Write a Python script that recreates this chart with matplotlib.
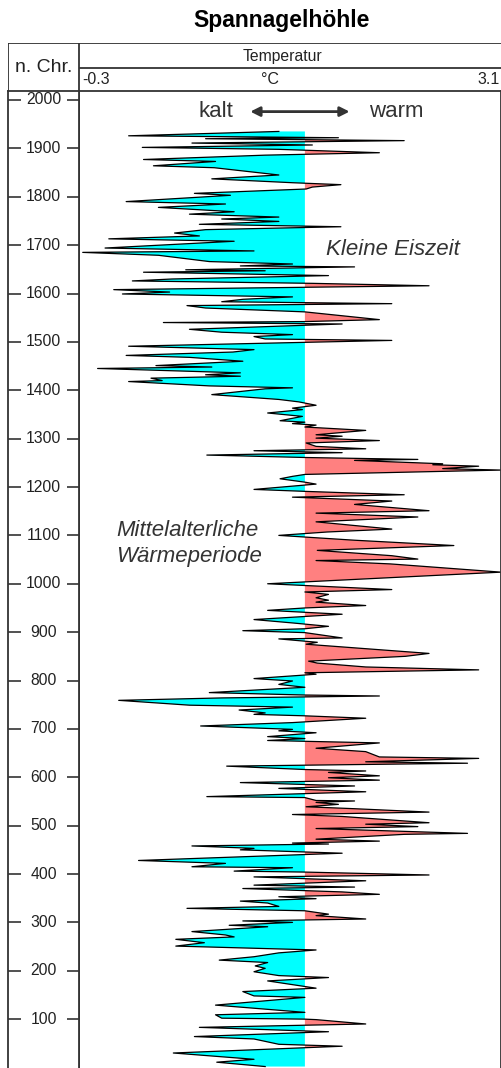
import matplotlib.pyplot as plt
import numpy as np
from matplotlib.transforms import blended_transform_factory

plt.rcParams['font.family'] = ['Liberation Sans', 'DejaVu Sans']

# Spannagelhöhle temperature reconstruction (years n. Chr., deg C)
year = np.array([
    1935, 1926, 1922, 1920, 1916, 1911, 1907, 1902, 1898, 1891, 1886, 1877, 1873, 1864, 1860,
    1845, 1837, 1829, 1825, 1820, 1816, 1807, 1803, 1790, 1785, 1778, 1769, 1764, 1758, 1754,
    1749, 1743, 1738, 1732, 1725, 1719, 1713, 1708, 1694, 1688, 1685, 1679,
    1666, 1661, 1657, 1655, 1649, 1647, 1644, 1637, 1630, 1626, 1621, 1616, 1611, 1608, 1603,
    1599, 1593, 1588, 1583, 1579, 1575, 1570, 1562, 1554, 1546, 1542, 1540, 1537, 1526, 1520,
    1515, 1511, 1506, 1503, 1491, 1484, 1479, 1472, 1468, 1460, 1451, 1448, 1445, 1436, 1432,
    1429, 1425, 1420, 1418, 1409, 1405, 1403, 1391, 1381,
    1376, 1369, 1363, 1360, 1353, 1346, 1337, 1334, 1331, 1328, 1324, 1317, 1308, 1305, 1301,
    1296, 1291, 1284, 1279, 1275, 1271, 1266, 1261, 1257, 1255, 1248, 1246, 1243, 1238, 1235,
    1226, 1222, 1217, 1210, 1206, 1204, 1195, 1191, 1184, 1179, 1171, 1164, 1151, 1146, 1138,
    1128, 1113, 1107,
    1100, 1090, 1079, 1069, 1058, 1051, 1048, 1041, 1024, 1009, 1004, 1000, 988, 983, 978,
    971, 966, 962, 955, 950, 945, 941, 937, 926, 919, 912, 907, 903, 899, 888, 886, 879, 875,
    856, 850, 840, 836,
    828, 822, 816, 813, 804, 799, 792, 786, 775, 770, 768, 764, 759, 749, 745, 739, 733, 730,
    727, 722, 713, 706, 699, 696, 692, 684, 680, 676, 671, 660, 653, 642, 639, 632, 629, 623,
    616, 613, 610, 603, 599, 594, 589, 582, 577, 570, 560, 558, 552, 551,
    548, 544, 539, 535, 528, 523, 519, 506, 503, 498, 494, 484, 482, 472, 468, 464, 462, 458,
    453, 450, 443, 428, 422, 415, 413, 406, 404, 398, 394, 386, 377, 373, 370, 363, 358, 353,
    349, 344, 340, 333, 329, 324, 317, 314, 307, 303, 300, 294, 291, 281, 274,
    270, 265, 258, 251, 243, 237, 229, 222, 217, 210, 205, 198, 190, 186, 179, 164, 157, 148,
    145, 129, 114, 109, 102, 100, 99, 90, 83, 74, 64, 59, 48, 44, 30, 17, 11, 2,
])
temp = np.array([
    1.31, 0.10, 1.79, 0.72, 2.32, 0.61, 1.58, 0.21, 1.31, 2.12, 1.20, 0.22, 0.80, 0.30, 0.79,
    1.31, 0.77, 1.42, 1.81, 1.58, 1.53, 0.63, 0.92, 0.08, 0.88, 0.34, 0.95, 0.59, 1.31, 0.85,
    1.31, 0.67, 1.81, 0.72, 0.47, 0.67, -0.06, 0.95, -0.09, 1.11, -0.27, 0.34,
    0.75, 1.42, 1.00, 1.92, 0.56, 1.20, 0.22, 1.71, 0.45, 0.13, 1.58, 2.52, 0.89, -0.02, 0.43,
    0.05, 1.42, 1.02, 0.85, 2.22, 0.57, 0.72, 1.52, 1.82, 2.12, 1.53, 0.38, 1.82, 0.59, 0.85,
    1.42, 1.11, 1.20, 2.22, 0.10, 1.11, 0.94, 0.08, 0.59, 1.02, 0.32, 0.77, -0.15, 1.00, 0.72,
    1.00, 0.28, 0.37, 0.10, 0.75, 1.42, 1.20, 0.77, 1.31,
    1.47, 1.61, 1.42, 1.50, 1.22, 1.50, 1.32, 1.52, 1.42, 1.61, 1.52, 2.01, 1.61, 1.82, 1.61,
    2.12, 1.53, 1.61, 2.01, 1.11, 1.82, 0.73, 1.52, 2.43, 1.92, 2.63, 2.55, 2.92, 2.63, 3.10,
    1.52, 1.42, 1.32, 1.52, 1.61, 1.52, 1.11, 1.52, 2.32, 1.42, 2.22, 1.92, 2.52, 1.61, 2.43,
    1.61, 2.22, 1.70,
    1.31, 1.92, 2.72, 1.62, 2.22, 2.43, 1.61, 2.21, 3.10, 1.92, 1.52, 1.22, 2.22, 1.52, 1.71,
    1.61, 1.71, 1.61, 2.01, 1.52, 1.22, 1.52, 1.82, 1.11, 1.42, 1.71, 1.52, 1.02, 1.52, 1.82,
    1.31, 1.62, 1.53,
    2.52, 2.33, 1.55, 1.62,
    2.01, 2.92, 1.52, 1.61, 1.11, 1.42, 1.31, 1.52, 0.75, 1.52, 2.12, 0.85, 0.02, 0.59, 1.42,
    0.99, 1.20, 1.11, 1.52, 2.01, 1.42, 0.68, 1.42, 1.31, 1.61, 1.22, 1.52, 1.22, 2.12, 1.61,
    2.01, 2.12, 2.92, 2.01, 2.83, 0.89, 1.52, 2.01, 1.71, 2.12, 1.71, 2.12, 1.00, 1.92, 1.31,
    2.01, 0.73, 1.52, 1.61, 1.92,
    1.61, 1.79, 1.53, 1.92, 2.52, 1.42, 1.82, 2.52, 2.01, 2.43, 1.61, 2.83, 2.32, 1.61, 2.12,
    1.42, 1.71, 0.61, 1.11, 1.00, 1.82, 0.18, 0.88, 0.61, 1.42, 0.95, 1.52, 2.52, 1.11, 2.01,
    1.11, 1.92, 1.02, 1.82, 2.12, 1.31, 1.61, 1.00, 1.22, 1.31, 0.57, 1.52, 1.71, 1.61, 2.01,
    1.02, 1.42, 0.91, 1.22, 0.61, 0.88,
    0.95, 0.48, 0.71, 0.48, 1.61, 1.31, 1.11, 0.83, 1.22, 1.12, 1.20, 1.11, 1.31, 1.71, 1.22,
    1.61, 1.02, 1.11, 1.52, 0.80, 1.52, 0.80, 0.85, 1.52, 1.61, 2.01, 0.67, 1.71, 0.63, 1.11,
    1.31, 1.82, 0.46, 1.11, 0.81, 1.20,
])
base = 1.52
tick_years = list(range(100, 2001, 100))

W, H = 501, 1068
fig = plt.figure(figsize=(W / 100, H / 100), dpi=100)
edge = '#333333'
txt = '#222222'

# main plot
ax = fig.add_axes([79 / W, 0, 1 - 79 / W, 1 - 91 / H])
ax.set_xlim(-0.3, 3.1)
ax.set_ylim(-1, 2018.6)
ax.fill_betweenx(year, temp, base, where=temp <= base, interpolate=True,
                 color='#00ffff', lw=0)
ax.fill_betweenx(year, temp, base, where=temp >= base, interpolate=True,
                 color='#ff8080', lw=0)
ax.plot(temp, year, color='black', lw=0.9)
ax.set_xticks([])
ax.set_yticks([])
for s in ax.spines.values():
    s.set_color(edge)
    s.set_linewidth(1.3)
ax.spines['bottom'].set_visible(False)

ax.annotate('', xy=(1.88, 1976), xytext=(1.08, 1976),
            arrowprops=dict(arrowstyle='<|-|>', color=edge, lw=2,
                            mutation_scale=14, shrinkA=0, shrinkB=0))
ax.text(0.80, 1976, 'kalt', fontsize=16, color=edge, ha='center', va='center')
ax.text(2.26, 1976, 'warm', fontsize=16, color=edge, ha='center', va='center')
ax.text(1.69, 1690, 'Kleine Eiszeit', fontsize=16, style='italic', color=edge,
        ha='left', va='center')
ax.text(0.0, 1083, 'Mittelalterliche\nWärmeperiode', fontsize=16, style='italic',
        color=edge, ha='left', va='center', linespacing=1.3)

# year column
lax = fig.add_axes([8 / W, 0, 71 / W, 1 - 91 / H])
lax.set_ylim(ax.get_ylim())
lax.set_xlim(0, 1)
lax.set_xticks([])
lax.set_yticks(tick_years)
lax.tick_params(axis='y', direction='in', left=True, right=True, length=9,
                width=1.2, color=edge, labelleft=False)
for s in lax.spines.values():
    s.set_color(edge)
    s.set_linewidth(1.3)
lax.spines['bottom'].set_visible(False)
tr = blended_transform_factory(lax.transAxes, lax.transData)
for t in tick_years:
    lax.text(0.5, t, str(t), transform=tr, fontsize=11.3, color=txt,
             ha='center', va='center')

# header box
hax = fig.add_axes([8 / W, 1 - 91 / H, 1 - 8 / W, 48 / H])
hax.set_xlim(0, 1)
hax.set_ylim(0, 1)
hax.axis('off')
div = 71 / 493
kw = dict(color=edge, lw=1.3, solid_capstyle='butt')
hax.plot([0, 1], [1, 1], **kw)
hax.plot([0, 0], [0, 1], **kw)
hax.plot([div, div], [0, 1], **kw)
hax.plot([div, 1], [0.48, 0.48], **kw)
hax.text(div / 2, 0.5, 'n. Chr.', fontsize=14, color=txt, ha='center', va='center')
hax.text(0.556, 0.72, 'Temperatur', fontsize=11.3, color=txt, ha='center', va='center')
hax.text(0.150, 0.23, '-0.3', fontsize=11.5, color=txt, ha='left', va='center')
hax.text(0.531, 0.25, '°C', fontsize=11.5, color=txt, ha='center', va='center')
hax.text(0.997, 0.23, '3.1', fontsize=11.5, color=txt, ha='right', va='center')

fig.text(282 / W, 1 - 20 / H, 'Spannagelhöhle', fontsize=16.5, fontweight='bold',
         color='black', ha='center', va='center')

fig.savefig('out.png', dpi=100)
